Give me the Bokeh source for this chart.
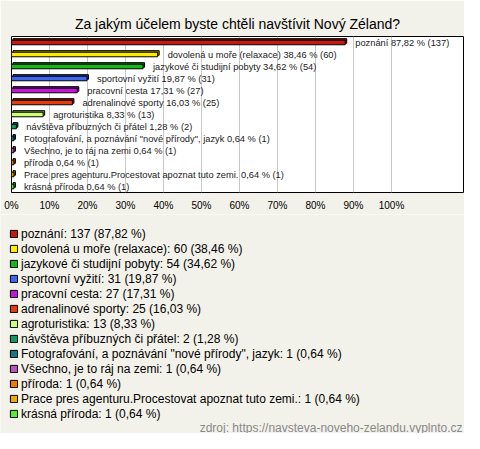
from bokeh.plotting import figure
from bokeh.layouts import column
from bokeh.models import (ColumnDataSource, Range1d, Legend, LegendItem, FixedTicker,
                          Label)
from bokeh.core.properties import value
from bokeh.embed import file_html
from bokeh.resources import INLINE

categories = [
    "poznání",
    "dovolená u moře (relaxace)",
    "jazykové či studijní pobyty",
    "sportovní vyžití",
    "pracovní cesta",
    "adrenalinové sporty",
    "agroturistika",
    "návštěva příbuzných či přátel",
    "Fotografování, a poznávání \"nové přírody\", jazyk",
    "Všechno, je to ráj na zemi",
    "příroda",
    "Prace pres agenturu.Procestovat apoznat tuto zemi.",
    "krásná příroda",
]
counts = [137, 60, 54, 31, 27, 25, 13, 2, 1, 1, 1, 1, 1]
percents = [87.82, 38.46, 34.62, 19.87, 17.31, 16.03, 8.33, 1.28, 0.64, 0.64, 0.64, 0.64, 0.64]
colors = ["#C8190C", "#FFEA00", "#15B815", "#3F66EE", "#C614D8", "#E43C0C",
          "#CCFF77", "#139966", "#1B7788", "#BB55BB", "#EE7A00", "#EAAA00", "#55EE33"]
tick_values = [0, 10, 20, 30, 40, 50, 60, 70, 80, 90, 100]
tick_labels = ["0%", "10%", "20%", "30%", "40%", "50%", "60%", "70%", "80%", "90%", "100%"]
source_note = "zdroj: https://navsteva-noveho-zelandu.vyplnto.cz"

FONT = "Liberation Sans"
BG = "#F3F2EA"
W = 464


def fmt(v):
    return f"{v:.2f}".replace(".", ",")


def darker(c, f=0.6):
    r, g, b = int(c[1:3], 16), int(c[3:5], 16), int(c[5:7], 16)
    return "#%02x%02x%02x" % (int(r * f), int(g * f), int(b * f))


ys = list(range(len(categories)))
bar_labels = [f"{c} {fmt(p)} % ({n})" for c, p, n in zip(categories, percents, counts)]
legend_labels = [f"{c}: {n} ({fmt(p)} %)" for c, p, n in zip(categories, percents, counts)]

FW, FH = 452, 156
# 3D offset in data units (~1.5 px)
dx = 0.4
dy = 0.13
src = ColumnDataSource(dict(
    y=ys, right=percents, color=colors, dark=[darker(c) for c in colors],
    yb=[y - dy for y in ys], lb=[dx] * len(ys), rb=[p + dx for p in percents],
    label=bar_labels,
))

# ---------------- chart ----------------
p = figure(frame_width=FW, frame_height=FH, output_backend="svg", toolbar_location=None,
           x_range=Range1d(0, FW / 3.8), y_range=Range1d(12.5, -0.5), y_axis_location=None,
           min_border_left=11, min_border_right=1, min_border_top=36, min_border_bottom=22)
p.frame_align = False
p.background_fill_color = "white"
p.border_fill_color = BG
p.outline_line_color = "black"
p.outline_line_width = 1

p.title.text = "Za jakým účelem byste chtěli navštívit Nový Zéland?"
p.title.align = "center"
p.title.text_font = FONT
p.title.text_font_size = "14px"
p.title.text_font_style = "normal"
p.title.text_color = "black"
p.title.standoff = 10

p.hbar(y="yb", left="lb", right="rb", height=0.38, source=src,
       fill_color="dark", line_color="black", line_width=1)
p.hbar(y="y", left=0, right="right", height=0.38, source=src,
       fill_color="color", line_color="black", line_width=1)

p.text(x="right", y="y", text="label", source=src, x_offset=10, y_offset=0,
       text_baseline="middle", text_align="left", text_font=value(FONT),
       text_font_size="9.3px", text_color="#222222")

p.ygrid.grid_line_color = None
p.xgrid.grid_line_color = "#C8C8C8"
p.xaxis.ticker = FixedTicker(ticks=tick_values)
p.xaxis.major_label_overrides = {v: l for v, l in zip(tick_values, tick_labels)}
p.xaxis.axis_line_color = None
p.xaxis.major_tick_line_color = None
p.xaxis.minor_tick_line_color = None
p.xaxis.major_tick_out = 0
p.xaxis.major_tick_in = 0
p.xaxis.major_label_standoff = 7
p.xaxis.major_label_text_font = FONT
p.xaxis.major_label_text_font_size = "10px"
p.xaxis.major_label_text_color = "black"

# ---------------- legend panel ----------------
H2 = 433 - (36 + FH + 22)
q = figure(width=W, height=H2, output_backend="svg", toolbar_location=None,
           x_range=Range1d(0, 1), y_range=Range1d(-0.5, 12.5),
           x_axis_location=None, y_axis_location=None,
           min_border_left=0, min_border_right=0, min_border_top=0, min_border_bottom=0)
q.frame_align = False
q.background_fill_color = BG
q.border_fill_color = BG
q.outline_line_color = None
q.grid.grid_line_color = None
# legend swatches take their colours from these (hidden) bars
swatch = q.hbar(y="y", left=0, right="right", height=0.38, source=src,
                fill_color="color", line_color="black", line_width=1, visible=False)

items = [LegendItem(label=lab, renderers=[swatch], index=i) for i, lab in enumerate(legend_labels)]
legend = Legend(items=items, orientation="vertical", location=(9, 12),
                label_text_font=FONT, label_text_font_size="12px", label_text_color="black",
                glyph_width=9, glyph_height=9, label_height=15, spacing=0, label_standoff=3,
                padding=0, margin=0, border_line_color=None, background_fill_alpha=0,
                inactive_fill_alpha=0)
q.add_layout(legend, "center")

footer = Label(x=W - 2, y=6, x_units="screen", y_units="screen", text=source_note,
               text_align="right", text_baseline="middle", text_font=FONT,
               text_font_size="12px", text_color="#888888")
q.add_layout(footer)

layout = column(p, q, spacing=0)
open("out.html", "w").write(file_html(layout, INLINE))
